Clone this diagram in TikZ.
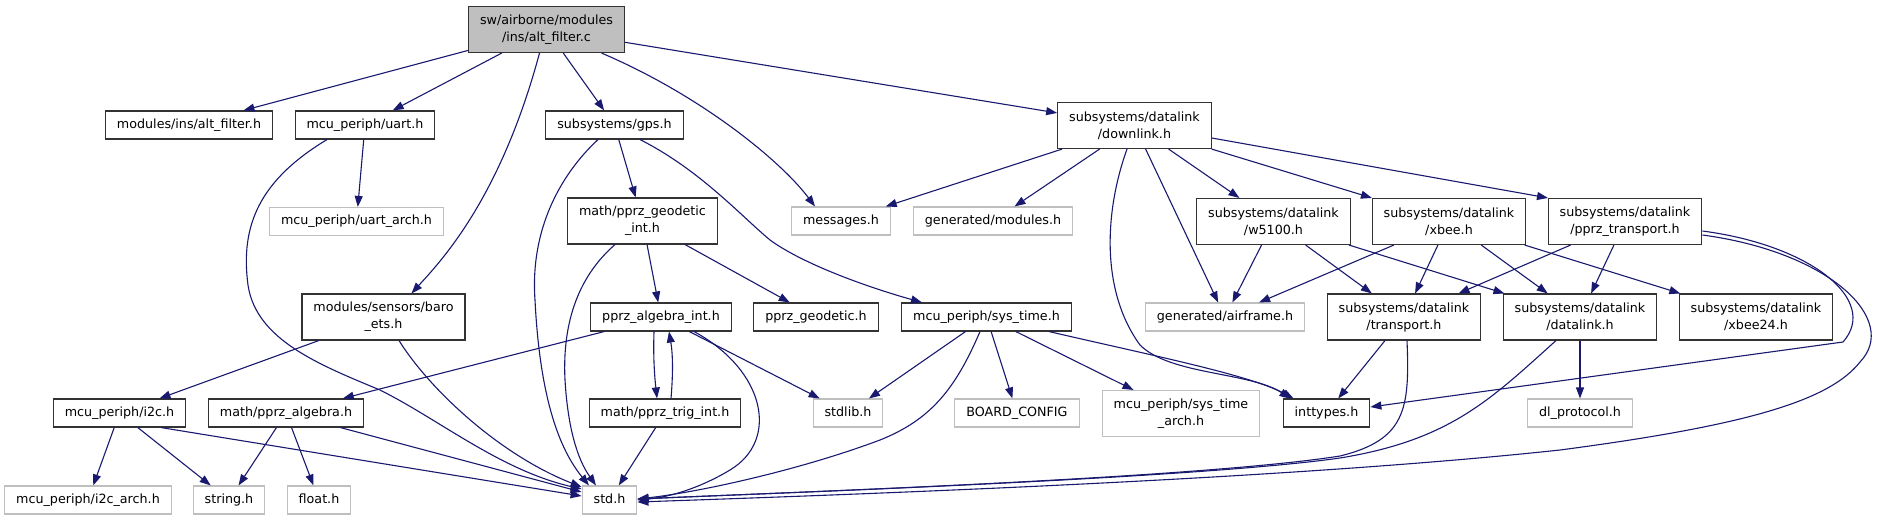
\documentclass[tikz,border=0pt]{standalone}
\usepackage{fontspec}
\setmainfont{DejaVu Sans}
\usepackage{tikz}
\usetikzlibrary{arrows.meta}
\definecolor{depblue}{HTML}{191970}
\definecolor{undocgray}{HTML}{BFBFBF}
\definecolor{rootfill}{HTML}{BFBFBF}

\begin{document}
\begin{tikzpicture}[x=1pt,y=-1pt,
    font=\fontsize{12.7pt}{17pt}\selectfont,
    box/.style={draw,fill=white,line width=1.1pt,minimum height=28pt,inner xsep=11.5pt,inner ysep=0pt},
    doc/.style={box,draw=black!80},
    nodoc/.style={box,draw=undocgray},
    one/.style={text height=9.5pt,text depth=3pt},
    two/.style={align=center,minimum height=46pt},
    dep/.style={draw=depblue,line width=1.1pt,-{Triangle[length=11pt,width=8pt]}}]
    \fill[white] (0,0) rectangle (1883,520);
    \path[use as bounding box] (0,0) rectangle (1883,520);

    % row 0
    \node[doc,two,fill=rootfill] (main) at (546.5,29.5) {sw/airborne/modules\\/ins/alt\_filter.c};
    % row 1
    \node[doc,one] (altfilter) at (189,125) {modules/ins/alt\_filter.h};
    \node[doc,one] (uart) at (365,125) {mcu\_periph/uart.h};
    \node[doc,one] (gps) at (614.5,125) {subsystems/gps.h};
    \node[doc,two] (downlink) at (1134.5,125.5) {subsystems/datalink\\/downlink.h};
    % row 2
    \node[nodoc,one] (uartarch) at (356.5,221.5) {mcu\_periph/uart\_arch.h};
    \node[doc,two] (geoint) at (642.5,221) {math/pprz\_geodetic\\\_int.h};
    \node[nodoc,one] (messages) at (841,221) {messages.h};
    \node[nodoc,one] (genmodules) at (993,221) {generated/modules.h};
    \node[doc,two] (w5100) at (1273.5,221.5) {subsystems/datalink\\/w5100.h};
    \node[doc,two] (xbee) at (1449,221.5) {subsystems/datalink\\/xbee.h};
    \node[doc,two] (pprztrans) at (1625,221.5) {subsystems/datalink\\/pprz\_transport.h};
    % row 3
    \node[doc,two] (baro) at (383.5,317) {modules/sensors/baro\\\_ets.h};
    \node[doc,one] (algint) at (661,317) {pprz\_algebra\_int.h};
    \node[doc,one] (geodetic) at (816,317) {pprz\_geodetic.h};
    \node[doc,one] (systime) at (986.5,317) {mcu\_periph/sys\_time.h};
    \node[nodoc,one] (genairframe) at (1225,317) {generated/airframe.h};
    \node[doc,two] (transport) at (1404,317) {subsystems/datalink\\/transport.h};
    \node[doc,two] (datalink) at (1580,317) {subsystems/datalink\\/datalink.h};
    \node[doc,two] (xbee24) at (1756,317) {subsystems/datalink\\/xbee24.h};
    % row 4
    \node[doc,one] (i2c) at (119.5,413) {mcu\_periph/i2c.h};
    \node[doc,one] (algebra) at (286,413) {math/pprz\_algebra.h};
    \node[doc,one] (trigint) at (665,413) {math/pprz\_trig\_int.h};
    \node[nodoc,one] (stdlib) at (848,413) {stdlib.h};
    \node[nodoc,one] (boardcfg) at (1017,413) {BOARD\_CONFIG};
    \node[nodoc,two] (systimearch) at (1181,413.5) {mcu\_periph/sys\_time\\\_arch.h};
    \node[doc,one] (inttypes) at (1326.5,413) {inttypes.h};
    \node[nodoc,one] (dlproto) at (1580,413) {dl\_protocol.h};
    % row 5
    \node[nodoc,one] (i2carch) at (88,500) {mcu\_periph/i2c\_arch.h};
    \node[nodoc,one] (stringh) at (229,500) {string.h};
    \node[nodoc,one] (floath) at (319,500) {float.h};
    \node[nodoc,one] (stdh) at (609.5,500) {std.h};

    % main file
    \draw[dep] (main) -- (altfilter);
    \draw[dep] (main) -- (uart);
    \draw[dep] ([xshift=-7pt]main.south) .. controls (500,200) and (440,262) .. ([xshift=28pt]baro.north);
    \draw[dep] (main) -- (gps);
    \draw[dep] ([xshift=55pt]main.south) .. controls (700,95) and (780,160) .. ([xshift=-26pt]messages.north);
    \draw[dep] (main) -- (downlink);

    % uart
    \draw[dep] (uart) -- (uartarch);
    \draw[dep] ([xshift=-38pt]uart.south) .. controls (260,180) and (240,225) .. (248,285)
      .. controls (256,340) and (320,365) .. (380,390)
      .. controls (440,420) and (500,470) .. ([yshift=11pt]stdh.west);

    % gps
    \draw[dep] (gps) -- (geoint);
    \draw[dep] ([xshift=-16.5pt]gps.south) .. controls (560,175) and (530,230) .. (535,300)
      .. controls (540,400) and (560,450) .. ([xshift=-20.5pt]stdh.north);
    \draw[dep] ([xshift=25.5pt]gps.south) .. controls (700,170) and (740,215) .. (770,240)
      .. controls (800,262) and (860,285) .. ([xshift=-64.5pt]systime.north);

    % geodetic int
    \draw[dep] (geoint) -- (algint);
    \draw[dep] (geoint) -- (geodetic);
    \draw[dep] ([xshift=-27.5pt]geoint.south) .. controls (580,275) and (562,320) .. (565,380)
      .. controls (568,430) and (578,460) .. ([xshift=-13.5pt]stdh.north);

    % baro
    \draw[dep] (baro) -- (i2c);
    \draw[dep] ([xshift=15.5pt]baro.south) .. controls (430,390) and (500,455) .. ([yshift=13pt]stdh.west);

    % algebra int / trig int
    \draw[dep] (algint) -- (algebra);
    \draw[dep] ([xshift=-7pt]algint.south) .. controls (653,360) and (655,380) .. ([xshift=-8pt]trigint.north);
    \draw[dep] (algint) -- (stdlib);
    \draw[dep] ([xshift=33pt]algint.south) .. controls (765,370) and (780,440) .. (730,470)
      .. controls (700,488) and (670,497) .. (stdh.east);
    \draw[dep] ([xshift=6pt]trigint.north) .. controls (673,375) and (673,355) .. ([xshift=8pt]algint.south);
    \draw[dep] (trigint) -- (stdh);

    % sys time
    \draw[dep] (systime) -- (stdlib);
    \draw[dep] ([xshift=-6.5pt]systime.south) .. controls (955,390) and (930,420) .. (880,440)
      .. controls (800,470) and (700,492) .. ([yshift=1pt]stdh.east);
    \draw[dep] (systime) -- (boardcfg);
    \draw[dep] (systime) -- (systimearch);
    \draw[dep] ([xshift=62.5pt]systime.south) .. controls (1150,355) and (1250,375) .. ([xshift=-33pt]inttypes.north);

    % downlink
    \draw[dep] (downlink) -- (messages);
    \draw[dep] (downlink) -- (genmodules);
    \draw[dep] ([xshift=-7.5pt]downlink.south) .. controls (1105,210) and (1100,290) .. (1140,345)
      .. controls (1170,375) and (1250,372) .. ([xshift=-36pt]inttypes.north);
    \draw[dep] (downlink) -- (genairframe);
    \draw[dep] (downlink) -- (w5100);
    \draw[dep] (downlink) -- (xbee);
    \draw[dep] ([yshift=-12.5pt]downlink.east) -- ([xshift=-77pt]pprztrans.north);

    % w5100, xbee
    \draw[dep] (w5100) -- (genairframe);
    \draw[dep] (w5100) -- (transport);
    \draw[dep] (w5100) -- (datalink);
    \draw[dep] (xbee) -- (genairframe);
    \draw[dep] (xbee) -- (transport);
    \draw[dep] (xbee) -- (datalink);
    \draw[dep] (xbee) -- (xbee24);

    % pprz transport
    \draw[dep] (pprztrans) -- (transport);
    \draw[dep] (pprztrans) -- (datalink);
    \draw[dep] ([yshift=-9.5pt]pprztrans.east) .. controls (1810,245) and (1880,300) .. (1843,342)
      -- ([yshift=6pt]inttypes.east);
    \draw[dep] ([yshift=-13.5pt]pprztrans.east) .. controls (1830,252) and (1900,320) .. (1860,362)
      .. controls (1830,400) and (1750,425) .. (1560,450)
      .. controls (1300,478) and (900,493) .. ([yshift=-2pt]stdh.east);

    % transport, datalink
    \draw[dep] (transport) -- (inttypes);
    \draw[dep] ([xshift=3pt]transport.south) .. controls (1410,410) and (1405,440) .. (1340,456)
      .. controls (1200,478) and (800,492) .. ([yshift=1pt]stdh.east);
    \draw[dep] (datalink) -- (dlproto);
    \draw[dep] ([xshift=-24pt]datalink.south) .. controls (1490,400) and (1450,440) .. (1340,458)
      .. controls (1200,478) and (800,492) .. ([yshift=1pt]stdh.east);

    % i2c, algebra
    \draw[dep] (i2c) -- (i2carch);
    \draw[dep] (i2c) -- (stringh);
    \draw[dep] ([xshift=41.5pt]i2c.south) -- ([yshift=4pt]stdh.west);
    \draw[dep] (algebra) -- (stringh);
    \draw[dep] (algebra) -- (floath);
    \draw[dep] (algebra) -- ([yshift=8pt]stdh.west);
\end{tikzpicture}
\end{document}
